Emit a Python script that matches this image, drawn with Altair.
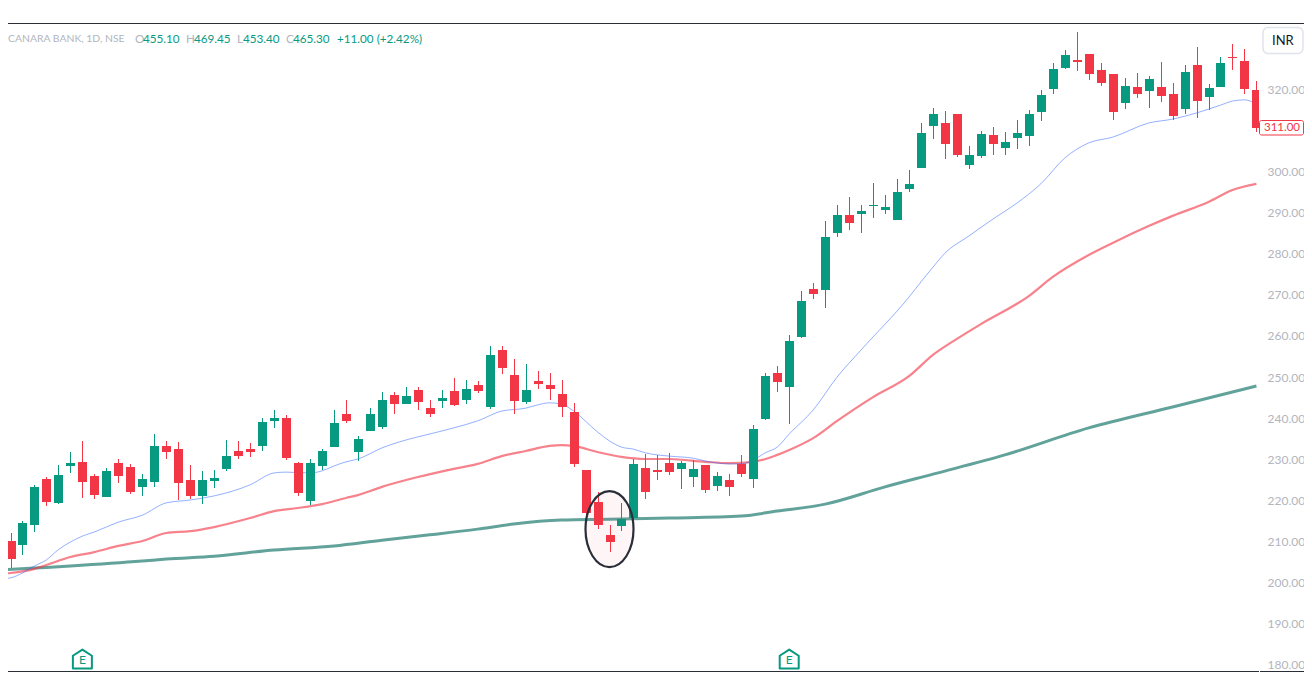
import altair as alt
import pandas as pd

# ---------- candles: index, high, body top, body bottom, low, direction
highs = [218.0,212.0,214.9,223.7,225.6,228.5,231.7,234.4,226.3,227.8,
 230.0,228.8,226.3,236.1,234.4,234.1,228.5,227.1,227.3,234.6,
 234.4,233.9,240.0,241.95,240.7,229.3,230.0,232.4,241.95,244.4,
 235.6,242.4,246.3,246.3,247.6,247.6,244.4,246.8,249.75,249.3,
 249.0,257.6,257.6,254.4,253.2,251.5,251.0,249.3,243.7,227.3,
 221.95,213.9,219.3,230.0,231.2,230.95,231.5,229.5,229.75,228.5,
 226.8,226.3,230.95,238.3,251.0,252.7,260.2,271.0,272.9,288.05,
 291.95,293.9,291.95,297.3,294.4,298.3,300.5,311.95,315.6,314.9,
 314.15,306.3,310.0,311.0,309.75,312.7,315.1,320.0,326.6,329.75,
 334.15,328.8,326.6,323.9,322.9,324.15,323.4,326.8,321.7,326.1,
 330.5,321.5,328.05,331.2,330.0,322.2]
tops = [217.6,210.0,214.4,223.2,225.1,226.1,229.0,229.3,225.9,227.1,
 229.0,228.0,225.1,233.2,233.2,232.4,224.9,224.9,225.4,230.7,
 231.95,232.4,239.0,240.0,240.0,229.0,229.0,231.95,238.8,241.0,
 234.9,241.0,244.4,245.6,245.4,246.8,242.4,244.9,246.6,247.1,
 248.05,255.4,256.6,250.5,246.8,249.0,248.05,245.9,241.5,227.3,
 219.5,211.5,215.4,228.8,227.8,227.3,229.0,229.0,227.6,228.5,
 225.9,224.9,228.8,237.3,250.2,251.0,258.8,268.5,271.5,284.1,
 289.5,289.5,290.5,291.95,291.5,295.1,297.1,309.5,314.15,311.95,
 314.15,304.15,309.3,309.0,307.3,309.5,314.15,318.8,325.1,328.5,
 327.3,328.8,324.9,323.9,321.0,320.7,322.7,320.7,319.0,324.4,
 326.1,320.5,326.6,328.05,327.1,320.0]
bottoms = [209.3,205.6,209.0,213.9,219.5,219.3,228.3,224.4,221.2,220.7,
 225.9,221.95,223.2,224.4,231.7,224.1,221.0,221.0,224.6,227.6,
 230.7,231.7,233.2,239.3,230.2,221.7,219.75,228.3,232.9,239.3,
 231.7,236.8,237.8,243.4,243.4,243.9,241.0,244.1,243.2,244.4,
 246.6,242.7,252.2,244.1,243.9,248.3,247.1,242.7,228.8,216.8,
 213.9,209.75,213.7,215.6,221.95,226.8,226.8,227.6,225.6,222.4,
 223.4,223.2,226.3,225.1,239.75,248.8,247.6,259.75,270.2,271.2,
 285.1,287.6,289.75,291.7,290.7,288.3,295.85,301.0,311.2,306.8,
 304.15,301.7,303.9,306.8,305.85,308.3,308.8,314.6,320.2,325.4,
 326.8,323.9,321.7,314.6,316.8,319.0,319.75,318.5,313.65,315.4,
 317.3,318.3,320.7,327.8,320.2,310.8]
lows = [207.0,203.4,206.6,212.2,218.5,219.0,226.6,220.5,220.2,220.7,
 224.1,221.5,221.0,223.2,230.0,220.0,220.2,219.0,222.9,227.1,
 230.0,230.5,231.95,237.6,229.75,221.0,218.8,227.3,232.9,238.8,
 229.5,236.8,237.3,241.0,243.4,241.95,240.2,242.4,242.9,243.4,
 246.1,242.2,250.7,241.0,243.4,247.1,244.4,240.2,228.0,216.3,
 212.9,207.3,212.4,215.1,220.2,224.9,226.1,222.7,223.2,221.7,
 222.2,221.0,225.6,222.9,239.5,246.3,238.5,259.5,269.0,266.8,
 284.1,285.85,285.1,288.8,289.75,288.3,295.1,301.0,308.05,303.2,
 303.65,300.7,303.4,304.15,304.15,305.6,306.3,312.4,319.0,325.1,
 324.6,322.4,321.0,312.7,315.4,318.05,315.6,317.1,312.7,314.15,
 313.2,315.1,320.7,324.9,319.0,309.75]
directions = ("RRGGRGGRRG" "RRGGRRRGGG" "RRGGRRGGGR" "GGGRGRRGRG" "RGRRGRRRRR"
              "RRGGRRRGGR" "GRRGGRGGRG" "GRGGGGGGGR" "RGGRGGGGGG" "RRRRGRGRRG"
              "RGGRRR")

# ---------- moving averages, read at candle indices
ma20_idx = [0,1,2,3,4,5,6,7,8,10,12,14,16,18,21,23,24,26,27,28,29,30,32,35,36,38,40,42,44,45,46,47,48,50,51,52,53,54,56,58,59,61,62,63,64,65,66,68,70,72,76,77,78,79,81,83,85,87,89,91,93,96,98,100,102,103,104,105]
ma20_val = [200.7,201.0,202.2,203.9,205.4,207.9,209.75,211.2,212.2,214.6,216.3,219.3,220.0,221.0,223.7,226.6,226.8,226.6,227.1,228.3,229.3,230.0,232.7,235.4,236.1,237.6,239.3,241.7,242.4,243.2,243.7,243.4,241.7,236.6,234.4,232.9,232.4,231.5,230.7,230.2,229.5,228.8,228.8,229.75,231.5,232.9,236.1,241.95,250.0,256.6,269.5,273.2,276.8,280.2,284.4,288.5,292.4,297.1,303.4,307.1,308.5,311.95,312.9,314.4,316.3,317.3,317.6,316.6]
ma50_idx = [0,1,3,4,6,8,10,12,14,16,18,21,23,25,27,29,30,32,35,38,40,42,44,46,47,48,50,52,54,56,59,61,63,65,66,68,70,73,76,78,80,82,86,88,91,93,96,98,101,103,105]
ma50_val = [201.95,202.2,203.2,204.15,206.1,207.3,208.8,210.0,211.95,212.4,213.4,215.6,217.3,218.05,219.0,220.5,221.2,223.2,225.6,227.6,228.8,230.7,231.95,233.2,233.4,233.2,231.7,230.5,230.0,230.0,229.3,229.0,229.3,231.0,232.2,235.1,239.3,245.1,250.2,255.4,259.3,262.9,269.75,274.4,279.75,282.7,286.8,289.3,292.7,295.6,297.1]
ma200_idx = [0,3,6,12,14,18,23,28,32,36,40,43,47,51,56,62,65,69,74,78,84,91,98,105]
ma200_val = [202.9,203.4,203.9,205.1,205.6,206.3,207.8,208.8,210.2,211.5,212.9,214.15,215.1,215.3,215.6,216.1,217.3,219.0,223.2,226.3,231.0,237.6,242.7,247.8]

price_ticks = [320,300,290,280,270,260,250,240,230,220,210,200,190,180]
earnings_idx = [7, 66]
earnings_price = [181.2, 181.2]
highlight_idx = [51]
highlight_price = [212.9]
last_price = "311.00"
header = [("CANARA BANK, 1D, NSE", 8, "#B2B5BE", 10.4), ("O", 135, "#B2B5BE", 11.7), ("455.10", 143, "#089981", 11.7),
          ("H", 186, "#B2B5BE", 11.7), ("469.45", 194, "#089981", 11.7), ("L", 237, "#B2B5BE", 11.7), ("453.40", 243, "#089981", 11.7),
          ("C", 286, "#B2B5BE", 11.7), ("465.30", 293, "#089981", 11.7), ("+11.00 (+2.42%)", 337, "#089981", 11.7)]

FONT = "Lato"
PAGE = 8          # page margin
TOP = 15          # padding above the plot
GREEN, RED = "#089981", "#F23645"

x_dom = [0.7913, 105.214]
y_dom = [178.05, 336.34]
x_r = alt.Scale(domain=x_dom, nice=False, zero=False, round=True, padding=0)
y_r = alt.Scale(domain=y_dom, nice=False, zero=False, round=True, padding=0)
x_s = alt.Scale(domain=x_dom, nice=False, zero=False)
y_s = alt.Scale(domain=y_dom, nice=False, zero=False)

candles = pd.DataFrame({"i": range(len(highs)), "high": highs, "top": tops, "bottom": bottoms,
                        "low": lows, "dir": list(directions)})
color = alt.Color("dir:N", scale=alt.Scale(domain=["G", "R"], range=[GREEN, RED]), legend=None)


def ma_layer(idx, val, stroke, width, opacity, axis=None):
    df = pd.DataFrame({"i": idx, "v": val})
    return alt.Chart(df).mark_line(stroke=stroke, strokeWidth=width, opacity=opacity, clip=True,
                                   interpolate="monotone").encode(
        x=alt.X("i:Q", scale=x_s, axis=None),
        y=alt.Y("v:Q", scale=y_s, axis=axis))


price_axis = alt.Axis(orient="right", values=price_ticks, format=".2f", domain=False, ticks=False, grid=False,
                      labelColor="#B2B5BE", labelFontSize=12, labelPadding=8, labelFont=FONT, title=None,
                      labelOverlap=False, labelFlush=False)

layers = [
    ma_layer(ma200_idx, ma200_val, "#00695C", 3, 0.62, price_axis),
    ma_layer(ma50_idx, ma50_val, RED, 2.2, 0.62),
    ma_layer(ma20_idx, ma20_val, "#2962FF", 1, 0.5),
    alt.Chart(candles).mark_rule(strokeWidth=1, clip=True, xOffset=0.5).encode(
        x=alt.X("i:Q", scale=x_r, axis=None),
        y=alt.Y("high:Q", scale=y_r, axis=None), y2="low:Q", color=color),
    alt.Chart(candles).mark_bar(size=9, clip=True, xOffset=0.5, orient="vertical").encode(
        x=alt.X("i:Q", scale=x_r, axis=None),
        y=alt.Y("top:Q", scale=y_r, axis=None), y2="bottom:Q", color=color),
]

ellipse = "M -0.632 0 A 0.632 1 0 1 0 0.632 0 A 0.632 1 0 1 0 -0.632 0 Z"
layers.append(alt.Chart(pd.DataFrame({"i": highlight_idx, "p": highlight_price})).mark_point(
    shape=ellipse, size=76 ** 2, stroke="#2A2E39", strokeWidth=2.2, fill=RED, fillOpacity=0.05,
    strokeOpacity=1, filled=False).encode(
    x=alt.X("i:Q", scale=x_s, axis=None), y=alt.Y("p:Q", scale=y_s, axis=None)))

house = "M -1 -0.35 L 0 -1 L 1 -0.35 L 1 1 L -1 1 Z"
ev = pd.DataFrame({"i": earnings_idx, "p": earnings_price, "t": ["E", "E"]})
layers.append(alt.Chart(ev).mark_point(shape=house, size=19 ** 2, stroke=GREEN, strokeWidth=2, fill="white",
                                       fillOpacity=1, strokeOpacity=1, filled=False, strokeJoin="round").encode(
    x=alt.X("i:Q", scale=x_s, axis=None), y=alt.Y("p:Q", scale=y_s, axis=None)))
layers.append(alt.Chart(ev).mark_text(color=GREEN, fontSize=12, font=FONT, dy=1).encode(
    x=alt.X("i:Q", scale=x_s, axis=None), y=alt.Y("p:Q", scale=y_s, axis=None), text="t:N"))

dummy = pd.DataFrame({"a": [0]})
# frame lines
layers.append(alt.Chart(dummy).mark_rule(stroke="#2A2E39", strokeWidth=1).encode(
    x=alt.value(-PAGE), x2=alt.value(1296), y=alt.value(0.5)))
layers.append(alt.Chart(dummy).mark_rule(stroke="#2A2E39", strokeWidth=1).encode(
    x=alt.value(-PAGE), x2=alt.value(1251), y=alt.value(648.5)))
layers.append(alt.Chart(dummy).mark_rule(stroke="#2A2E39", strokeWidth=1).encode(
    x=alt.value(1252), x2=alt.value(1296), y=alt.value(648.5)))

# last price tag
layers.append(alt.Chart(dummy).mark_rect(fill="white", stroke=RED, strokeWidth=1, cornerRadius=2).encode(
    x=alt.value(1251.5), x2=alt.value(1295.5), y=alt.value(97.5), y2=alt.value(112)))
layers.append(alt.Chart(dummy).mark_text(color=RED, fontSize=11.5, font=FONT, align="center", baseline="middle").encode(
    x=alt.value(1274), y=alt.value(105), text=alt.value(last_price)))

# currency button
layers.append(alt.Chart(dummy).mark_rect(fill="white", stroke="#E0E3EB", strokeWidth=1.5, cornerRadius=5).encode(
    x=alt.value(1255), x2=alt.value(1295), y=alt.value(4.5), y2=alt.value(30.5)))
layers.append(alt.Chart(dummy).mark_text(color="#131722", fontSize=13, font=FONT, align="left", baseline="middle").encode(
    x=alt.value(1264), y=alt.value(18), text=alt.value("INR")))

# header legend
for txt, px, col, fs in header:
    layers.append(alt.Chart(dummy).mark_text(color=col, fontSize=fs, font=FONT, align="left", baseline="middle").encode(
        x=alt.value(px - PAGE), y=alt.value(15.5), text=alt.value(txt)))

chart = alt.layer(*layers).resolve_scale(x="independent", y="independent", color="shared").properties(
    width=1251, height=649,
    padding={"left": 0, "top": TOP, "right": 45, "bottom": 0},
    autosize=alt.AutoSizeParams(type="none"),
    background="white",
).configure_view(stroke=None)

chart.save("out.html", embed_options={"renderer": "svg", "actions": False})
